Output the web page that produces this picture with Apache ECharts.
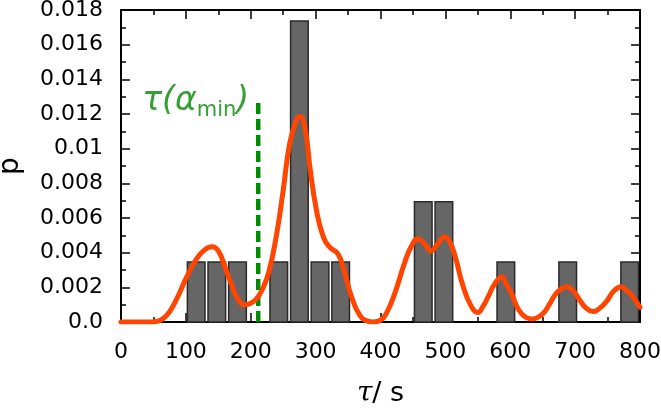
<!DOCTYPE html>
<html><head><meta charset="utf-8">
<script src="https://cdn.jsdelivr.net/npm/echarts@6/dist/echarts.min.js"></script>
<style>html,body{margin:0;padding:0;background:#fff}#c{width:661px;height:412px}</style>
</head><body><div id="c"></div>
<script>
// Histogram bins (tau in s) and heights (p)
var binStart = [100, 131.8, 163.6, 227.3, 259.1, 290.9, 322.7, 450, 481.8, 577.3, 672.7, 768.2];
var binEnd   = [131.8, 163.6, 195.5, 259.1, 290.9, 322.7, 354.5, 481.8, 513.6, 609.1, 704.5, 800];
var binHeight = [0.00346, 0.00346, 0.00346, 0.00346, 0.01737, 0.00346, 0.00346, 0.00694, 0.00694, 0.00346, 0.00346, 0.00346];

// Density curve
var curveX = [0, 20, 40, 55, 65, 75, 88, 100, 114, 127, 140, 150, 160, 170, 181, 190, 198, 208, 218, 228, 240, 250, 260, 270, 276, 284, 291, 301, 312, 322, 335, 345, 355, 368, 380, 389, 400, 409, 422, 437, 448, 458, 468, 478, 488, 499, 507, 515, 527, 540, 550, 558, 566, 576, 587, 595, 602, 610, 617, 625, 633, 641, 651, 660, 669, 678, 687, 697, 707, 717, 728, 738, 748, 760, 771, 780, 787, 800];
var curveP = [0, 0, 0, 0.00003, 0.0002, 0.0006, 0.0015, 0.0025, 0.0035, 0.0041, 0.00434, 0.0041, 0.0032, 0.0022, 0.00127, 0.001, 0.00105, 0.0013, 0.0019, 0.0029, 0.0051, 0.0076, 0.0103, 0.0116, 0.01185, 0.0111, 0.009, 0.0065, 0.0049, 0.0043, 0.0039, 0.0028, 0.0015, 0.0004, 0.00005, 0, 0.0001, 0.0005, 0.00165, 0.0034, 0.0044, 0.0048, 0.0045, 0.0041, 0.0045, 0.0049, 0.0046, 0.0038, 0.0021, 0.0009, 0.00055, 0.0009, 0.00146, 0.0022, 0.0026, 0.0021, 0.00165, 0.0009, 0.0005, 0.00025, 0.00017, 0.00025, 0.0005, 0.001, 0.00156, 0.0019, 0.00204, 0.0018, 0.00127, 0.0008, 0.0006, 0.0008, 0.00117, 0.0018, 0.00204, 0.0018, 0.00156, 0.00085];

// Marker line tau(alpha_min)
var tauMin = 211.5;
var tauLineTop = 0.01285;
var tauLabelP = 0.0127;

var xTickLabels = ['0', '100', '200', '300', '400', '500', '600', '700', '800'];
var yTickLabels = ['0.0', '0.002', '0.004', '0.006', '0.008', '0.01', '0.012', '0.014', '0.016', '0.018'];

var FONT = 'DejaVu Sans';
var chart = echarts.init(document.getElementById('c'), null, {renderer: 'canvas'});

var barData = binStart.map(function (s, i) { return [s, binEnd[i], binHeight[i]]; });
var curveData = curveX.map(function (x, i) { return [x, curveP[i]]; });

function baseAxis(extra) {
  return Object.assign({
    type: 'value',
    axisLine: {show: true, onZero: false, lineStyle: {color: '#000', width: 2}},
    axisTick: {show: true, inside: true, length: 9, lineStyle: {color: '#000', width: 1.5}},
    minorTick: {show: true, splitNumber: 2, length: 5, lineStyle: {color: '#000', width: 1.5}},
    splitLine: {show: false},
    minorSplitLine: {show: false}
  }, extra);
}

chart.setOption({
  animation: false,
  backgroundColor: '#fff',
  grid: {left: 121, right: 21, top: 10, bottom: 90, containLabel: false, outerBoundsMode: 'none'},
  xAxis: [
    baseAxis({
      min: 0, max: 800, interval: 100, position: 'bottom',
      axisLabel: {fontSize: 22, fontFamily: FONT, color: '#000', margin: 19,
        formatter: function (v) { return xTickLabels[Math.round(v / 100)]; }},
      name: '{i|τ}{n|/ s}', nameLocation: 'middle', nameGap: 58,
      nameTextStyle: {rich: {
        i: {fontSize: 28, fontFamily: 'DejaVu Serif', fontStyle: 'italic', color: '#000'},
        n: {fontSize: 27, fontFamily: FONT, color: '#000'}
      }}
    }),
    baseAxis({min: 0, max: 800, interval: 100, position: 'top', axisLabel: {show: false}})
  ],
  yAxis: [
    baseAxis({
      min: 0, max: 0.018, interval: 0.002, position: 'left',
      axisLabel: {fontSize: 22, fontFamily: FONT, color: '#000', margin: 18,
        formatter: function (v) { return yTickLabels[Math.round(v / 0.002)]; }},
      name: 'p', nameLocation: 'middle', nameGap: 96,
      nameTextStyle: {fontSize: 28, fontFamily: FONT, color: '#000'}
    }),
    baseAxis({min: 0, max: 0.018, interval: 0.002, position: 'right', axisLabel: {show: false}})
  ],
  series: [
    {
      type: 'custom', xAxisIndex: 0, yAxisIndex: 0, z: 1,
      encode: {x: [0, 1], y: 2},
      data: barData,
      renderItem: function (params, api) {
        var p0 = api.coord([api.value(0), 0]);
        var p1 = api.coord([api.value(1), api.value(2)]);
        return {
          type: 'rect',
          shape: {x: p0[0] + 1.5, y: p1[1], width: p1[0] - p0[0] - 3, height: p0[1] - p1[1]},
          style: {fill: '#666666', stroke: '#2a2a2a', lineWidth: 1.5}
        };
      }
    },
    {
      type: 'line', z: 3, data: [[tauMin, 0], [tauMin, tauLineTop]],
      showSymbol: false, symbol: 'none',
      lineStyle: {color: '#008c00', width: 4.5, type: [11, 5]}
    },
    {
      type: 'scatter', z: 4, data: [[tauMin, tauLabelP]], symbolSize: 0,
      label: {
        show: true, position: 'left', distance: 9,
        formatter: '{a|τ(α}{b|min}{a|)}',
        rich: {
          a: {fontSize: 33, fontFamily: FONT, fontStyle: 'italic', color: '#008800', lineHeight: 38},
          b: {fontSize: 21, fontFamily: FONT, color: '#008800', verticalAlign: 'bottom', lineHeight: 21}
        }
      }
    },
    {
      type: 'line', z: 5, data: curveData, smooth: 0.5,
      showSymbol: false, symbol: 'none',
      lineStyle: {color: '#ff4500', width: 5, join: 'round', cap: 'round'}
    }
  ]
});
</script></body></html>
